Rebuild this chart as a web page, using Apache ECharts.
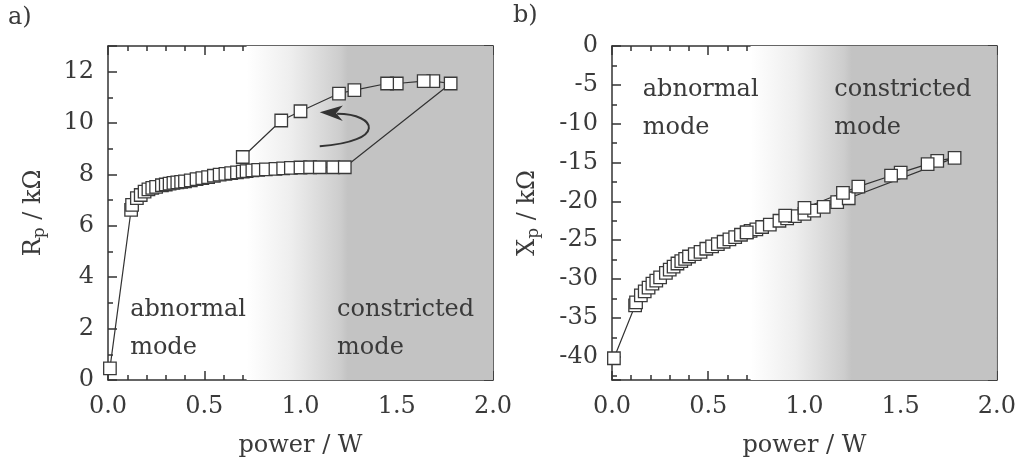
<!DOCTYPE html>
<html><head><meta charset="utf-8">
<script src="https://cdn.jsdelivr.net/npm/echarts@6/dist/echarts.min.js"></script>
<style>html,body{margin:0;padding:0;background:#fff}#c{width:1019px;height:463px}</style>
</head><body><div id="c"></div>
<script>
// rising branch (increasing power)
const powerRise = [0.01,0.12,0.125,0.15,0.17,0.19,0.21,0.23,0.25,0.28,0.30,0.32,0.34,0.36,0.38,0.40,0.43,0.46,0.49,0.52,0.55,0.58,0.61,0.64,0.67,0.70,0.72,0.75,0.78,0.82,0.87,0.91,0.95,1.00,1.05,1.10,1.17,1.23];
const rpRise = [0.45,6.62,6.82,7.08,7.20,7.33,7.42,7.48,7.52,7.58,7.61,7.64,7.67,7.69,7.71,7.73,7.77,7.82,7.86,7.90,7.95,7.99,8.02,8.05,8.08,8.11,8.13,8.16,8.18,8.20,8.22,8.24,8.26,8.27,8.28,8.28,8.28,8.28];
const xpRise = [-40.2,-33.4,-33.0,-32.1,-31.6,-31.1,-30.6,-30.2,-29.8,-29.2,-28.8,-28.4,-28.0,-27.7,-27.4,-27.1,-26.8,-26.5,-26.1,-25.8,-25.5,-25.2,-24.9,-24.6,-24.3,-24.0,-23.8,-23.6,-23.3,-23.0,-22.5,-22.2,-21.9,-21.6,-21.2,-20.7,-20.1,-19.6];
// falling branch (decreasing power)
const powerFall = [1.78,1.69,1.64,1.50,1.45,1.28,1.20,1.00,0.90,0.70];
const rpFall = [11.54,11.63,11.63,11.54,11.54,11.28,11.15,10.46,10.10,8.68];
const xpFall = [-14.4,-14.8,-15.2,-16.3,-16.7,-18.1,-18.9,-20.85,-21.85,-24.0];

const xTickValues = [0.0,0.5,1.0,1.5,2.0];
const panelLabels = ['a)','b)'];
const modeLabels = ['abnormal\nmode','constricted\nmode'];

const FONT = 'DejaVu Serif';
const INK = '#333333';
const TXT = '#3a3a3a';

function pairs(xs, ys){ return xs.map((x,i)=>[x, ys[i]]); }
const rpData = pairs(powerRise, rpRise).concat(pairs(powerFall, rpFall));
const xpData = pairs(powerRise, xpRise).concat(pairs(powerFall, xpFall));

const chart = echarts.init(document.getElementById('c'), null, {renderer:'canvas'});

function xAx(grid, top){
  return {
    type:'value', gridIndex:grid, position: top?'top':'bottom',
    min: xTickValues[0], max: xTickValues[xTickValues.length-1], interval: 0.5,
    axisLine:{show:true, onZero:false, lineStyle:{color:INK, width:1.5}},
    axisTick:{show:true, inside:true, length:9, lineStyle:{color:INK, width:1.5}},
    minorTick:{show:true, splitNumber:5, length:5, lineStyle:{color:INK, width:1.5}},
    splitLine:{show:false},
    axisLabel:{show:!top, fontFamily:FONT, fontSize:24, color:TXT, margin:15, formatter:v=>v.toFixed(1)},
    name: top ? '' : 'power / W', nameLocation:'middle', nameGap:54,
    nameTextStyle:{fontFamily:FONT, fontSize:24, color:TXT}
  };
}
function yAx(grid, right, opts){
  return Object.assign({
    type:'value', gridIndex:grid, position: right?'right':'left',
    axisLine:{show:true, onZero:false, lineStyle:{color:INK, width:1.5}},
    axisTick:{show:true, inside:true, length:9, lineStyle:{color:INK, width:1.5}},
    minorTick:{show:true, splitNumber:2, length:5, lineStyle:{color:INK, width:1.5}},
    splitLine:{show:false},
    axisLabel:{show:!right, fontFamily:FONT, fontSize:24, color:TXT, margin:14, showMaxLabel:opts.showMax, showMinLabel:opts.showMin},
    name: right ? '' : opts.name, nameLocation:'middle', nameGap:opts.gap,
    nameTextStyle:{fontFamily:FONT, fontSize:24, color:TXT,
      rich:{s:{fontFamily:FONT, fontSize:17, color:TXT, verticalAlign:'bottom', padding:[12,0,0,0]}}}
  }, opts.scale);
}

function bg(){
  return new echarts.graphic.LinearGradient(0,0,1,0,[
    {offset:0, color:'#ffffff'},
    {offset:0.18, color:'#eeeeee'},
    {offset:0.38, color:'#cdcdcd'},
    {offset:0.41, color:'#c3c3c3'},
    {offset:1, color:'#c3c3c3'}]);
}

const markerStyle = {
  type:'line', symbol:'rect', symbolSize:12.5, showSymbol:true, showAllSymbol:true,
  lineStyle:{color:INK, width:1.2},
  itemStyle:{color:'#ffffff', borderColor:'#3a3a3a', borderWidth:1.3},
  emphasis:{disabled:true}, z:5, animation:false
};

chart.setOption({
  animation:false,
  backgroundColor:'#ffffff',
  grid:[
    {left:108, top:46, width:385, height:335},
    {left:612, top:46, width:385, height:334}
  ],
  xAxis:[xAx(0,false), xAx(0,true), xAx(1,false), xAx(1,true)],
  yAxis:[
    yAx(0,false,{name:'R{s|p} / kΩ', gap:60, showMax:false, showMin:true, scale:{min:0, max:13, interval:2}}),
    yAx(0,true,{showMax:false, showMin:true, scale:{min:0, max:13, interval:2}}),
    yAx(1,false,{name:'X{s|p} / kΩ', gap:70, showMax:true, showMin:false, scale:{min:-43, max:0, splitNumber:9}}),
    yAx(1,true,{showMax:true, showMin:false, scale:{min:-43, max:0, splitNumber:9}})
  ],
  series:[
    {type:'line', xAxisIndex:0, yAxisIndex:0, data:[], z:1, silent:true,
      markArea:{silent:true, itemStyle:{color:bg()}, data:[[{coord:[0.72,0]},{coord:[2,13]}]]}},
    {type:'line', xAxisIndex:2, yAxisIndex:2, data:[], z:1, silent:true,
      markArea:{silent:true, itemStyle:{color:bg()}, data:[[{coord:[0.72,-43]},{coord:[2,0]}]]}},
    Object.assign({}, markerStyle, {xAxisIndex:0, yAxisIndex:0, data:rpData}),
    Object.assign({}, markerStyle, {xAxisIndex:2, yAxisIndex:2, data:xpData})
  ]
});

// annotations positioned in data coordinates
function px(g, p){ return chart.convertToPixel({gridIndex:g}, p); }
const textStyle = (t)=>({text:t, fontFamily:FONT, fontSize:24, fill:TXT, lineHeight:38, align:'left', verticalAlign:'middle'});
const modeAnchors = [[0,[0.115,2.0]],[0,[1.19,2.0]],[1,[0.16,-8.05]],[1,[1.155,-8.05]]];
const gfx = [];
modeAnchors.forEach((a,i)=>{
  const p = px(a[0], a[1]);
  gfx.push({type:'text', x:p[0], y:p[1], z:10, style:textStyle(modeLabels[i%2])});
});
gfx.push({type:'text', left:8, top:6, style:{text:panelLabels[0], fontFamily:FONT, fontSize:24, fill:TXT}});
gfx.push({type:'text', left:513, top:4, style:{text:panelLabels[1], fontFamily:FONT, fontSize:24, fill:TXT}});
// curved arrow (hysteresis direction)
const t0 = px(0,[1.10,9.1]), c1 = px(0,[1.45,9.28]), c2 = px(0,[1.40,10.36]), t1 = px(0,[1.19,10.36]);
gfx.push({type:'bezierCurve', z:10, shape:{x1:t0[0],y1:t0[1],cpx1:c1[0],cpy1:c1[1],cpx2:c2[0],cpy2:c2[1],x2:t1[0],y2:t1[1]},
  style:{stroke:INK, lineWidth:2, fill:null}});
const h0 = px(0,[1.10,10.42]), h1 = px(0,[1.22,10.68]), h2 = px(0,[1.22,10.08]), h3 = px(0,[1.185,10.38]);
gfx.push({type:'polygon', z:10, shape:{points:[h0,h1,h3,h2]}, style:{fill:INK}});
chart.setOption({graphic:gfx});
</script>
</body></html>
